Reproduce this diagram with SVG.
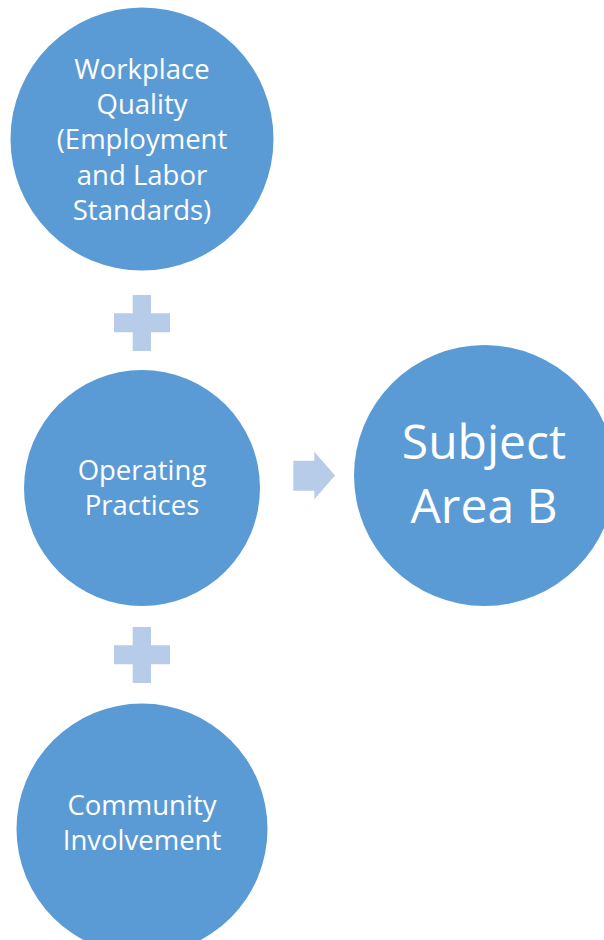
<svg xmlns="http://www.w3.org/2000/svg" width="604" height="940" viewBox="0 0 604 940">
<style>
.node{fill:#5B9BD5}
.lbl{fill:#FFFFFF;font-family:"Open Sans","Liberation Sans",sans-serif;font-size:27.5px;text-anchor:middle}
.big{font-size:48px}
.conn{fill:#B7CCE8}
</style>
<rect width="604" height="940" fill="#FFFFFF"/>
<g id="connectors">
<path class="conn" d="M132.7 295H151V313.3H170V332.3H151V351H132.7V332.3H114V313.3H132.7Z"/>
<path class="conn" d="M132.7 627H151V645.3H170V664.3H151V683H132.7V664.3H114V645.3H132.7Z"/>
<polygon class="conn" points="293.3,460.7 314.3,460.7 314.3,451.7 335,475.5 314.3,499.3 314.3,490.7 293.3,490.7"/>
</g>
<g id="workplace-quality">
<circle class="node" cx="142" cy="139" r="131.5"/>
<text class="lbl" x="142" y="79">Workplace</text>
<text class="lbl" x="142" y="113.5">Quality</text>
<text class="lbl" x="142" y="148.5">(Employment</text>
<text class="lbl" x="142" y="184.5">and Labor</text>
<text class="lbl" x="142" y="220">Standards)</text>
</g>
<g id="operating-practices">
<circle class="node" cx="142" cy="488" r="118"/>
<text class="lbl" x="142" y="479.5">Operating</text>
<text class="lbl" x="142" y="515">Practices</text>
</g>
<g id="community-involvement">
<circle class="node" cx="142" cy="829" r="125.5"/>
<text class="lbl" x="142" y="815">Community</text>
<text class="lbl" x="142" y="850">Involvement</text>
</g>
<g id="subject-area-b">
<circle class="node" cx="484.5" cy="475.5" r="130.5"/>
<text class="lbl big" x="484" y="459">Subject</text>
<text class="lbl big" x="484" y="522.5">Area B</text>
</g>
</svg>
